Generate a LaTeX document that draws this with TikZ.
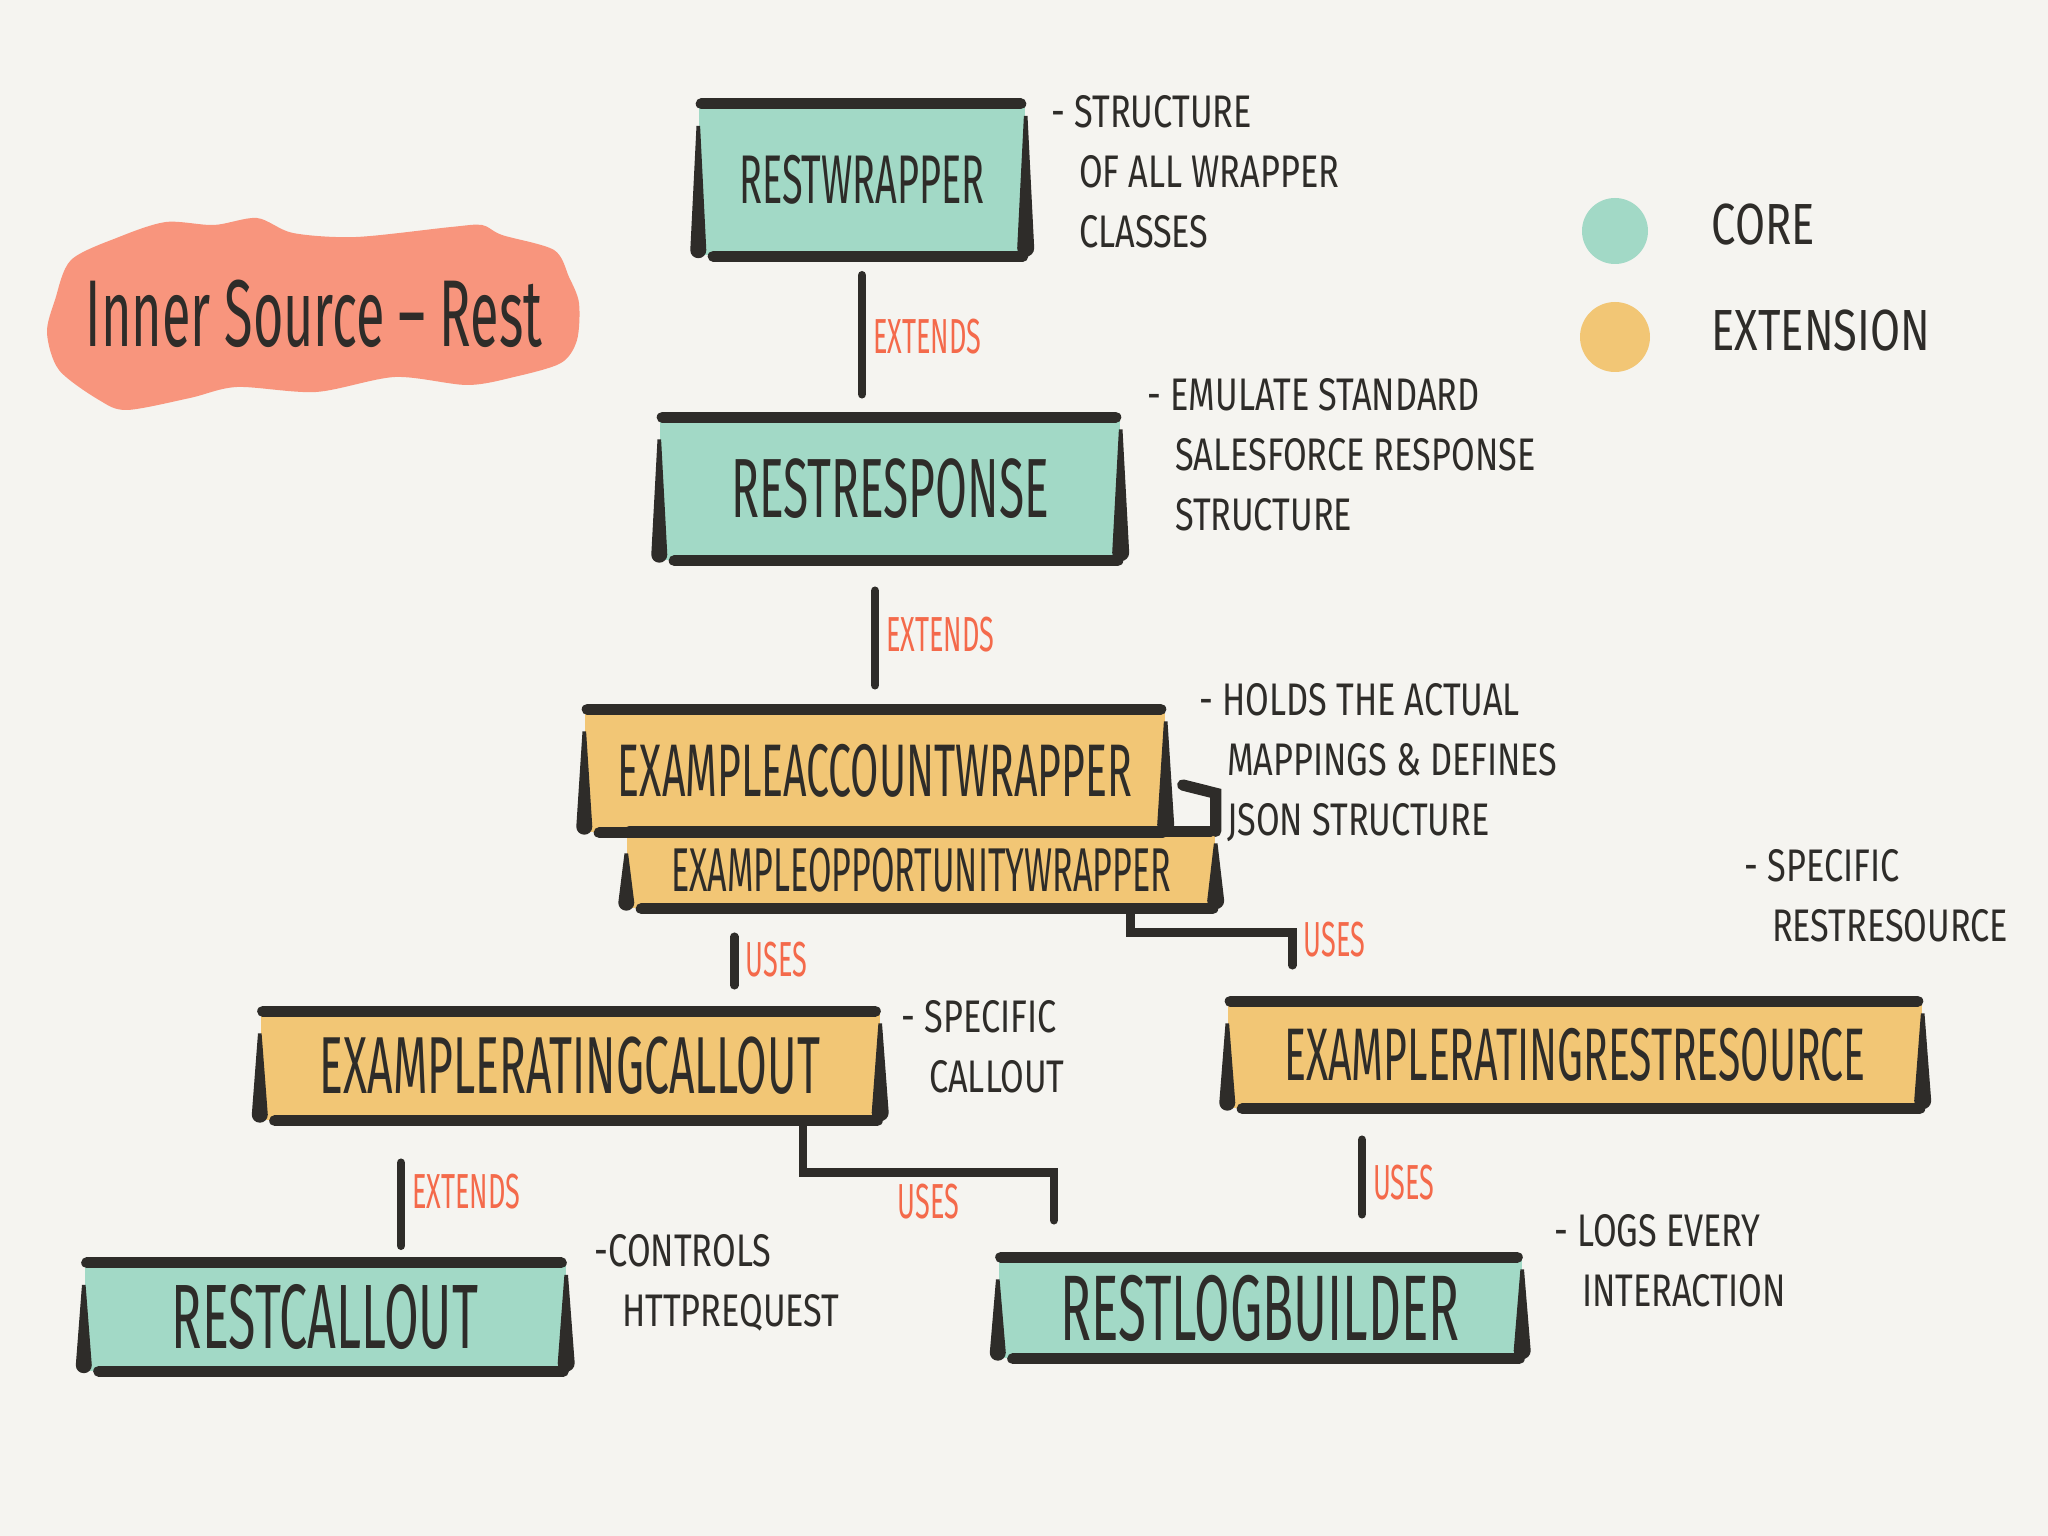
\documentclass[tikz,border=0pt]{standalone}
\usepackage{fontspec}
\setmainfont{Fira Sans}
\newfontfamily\handfont{Fira Sans}[FakeStretch=0.55]
\newfontfamily\notefont{Fira Sans}[FakeStretch=0.75]
\usetikzlibrary{calc,arrows.meta,positioning}
\definecolor{paper}{HTML}{F5F4F0}
\definecolor{ink}{HTML}{2E2C29}
\definecolor{coreteal}{HTML}{A2D9C6}
\definecolor{extyellow}{HTML}{F2C675}
\definecolor{titlered}{HTML}{F8957D}
\definecolor{tagred}{HTML}{F46A4B}
\newcommand\ind{\hspace*{0.6em}}
\tikzset{
    core/.style={fill=coreteal, inner sep=0pt, text=ink},
    ext/.style={fill=extyellow, inner sep=0pt, text=ink},
    rim/.style={draw=ink, line width=3.2pt, line cap=round},
    link/.style={draw=ink, line width=2.4pt, line cap=round},
    tag/.style={text=tagred, font=\handfont\fontsize{14}{14}\selectfont, inner sep=2pt},
    note/.style={text=ink, font=\notefont\fontsize{13}{17}\selectfont, align=left, anchor=north west, inner sep=0pt},
  }

\begin{document}
\begin{tikzpicture}
  \useasboundingbox (0,0) rectangle (20.48,-15.36);
  \fill[paper] (0,0) rectangle (20.48,-15.36);

  %TITLE
  \fill[titlered] plot[smooth cycle] coordinates {(0.71,-2.60) (1.19,-2.37) (1.66,-2.22) (2.14,-2.25) (2.57,-2.18) (2.93,-2.33) (3.56,-2.37) (4.51,-2.27) (4.82,-2.25) (5.02,-2.35) (5.54,-2.50) (5.69,-2.77) (5.79,-3.03) (5.77,-3.40) (5.61,-3.63) (5.14,-3.77) (4.67,-3.85) (3.95,-3.77) (3.16,-3.92) (2.37,-3.87) (1.90,-3.98) (1.27,-4.10) (0.99,-4.00) (0.59,-3.70) (0.47,-3.33) (0.55,-3.00)};
  \node[anchor=base, font=\handfont\fontsize{27}{27}\selectfont, text=ink] (title) at (3.14,-3.47) {Inner Source \textendash{} Rest};

  %LEGEND
  \node[circle, fill=coreteal, minimum size=0.66cm, inner sep=0pt] (corekey) at (16.15,-2.31) {};
  \node[anchor=west, font=\notefont\fontsize{16.5}{17}\selectfont, text=ink, inner sep=0pt] (corelbl) at (17.11,-2.25) {CORE};
  \node[circle, fill=extyellow, minimum size=0.70cm, inner sep=0pt] (extkey) at (16.15,-3.37) {};
  \node[anchor=west, font=\notefont\fontsize{16.5}{17}\selectfont, text=ink, inner sep=0pt] (extlbl) at (17.11,-3.31) {EXTENSION};

  %CLASSES
  \node[core, minimum width=3.26cm, minimum height=1.51cm, font=\handfont\fontsize{19.6}{20}\selectfont] (wrap) at (8.62,-1.80) {RESTWRAPPER};
  \node[core, minimum width=4.60cm, minimum height=1.42cm, font=\handfont\fontsize{23.9}{24}\selectfont] (resp) at (8.90,-4.89) {RESTRESPONSE};
  \node[ext, minimum width=5.80cm, minimum height=1.22cm, font=\handfont\fontsize{21.2}{22}\selectfont] (acc) at (8.75,-7.71) {EXAMPLEACCOUNTWRAPPER};
  \node[ext, minimum width=5.88cm, minimum height=0.76cm, font=\handfont\fontsize{17.6}{18}\selectfont] (opp) at (9.21,-8.70) {EXAMPLEOPPORTUNITYWRAPPER};
  \node[ext, minimum width=6.19cm, minimum height=1.08cm, font=\handfont\fontsize{23}{24}\selectfont] (callout) at (5.70,-10.66) {EXAMPLERATINGCALLOUT};
  \node[ext, minimum width=6.94cm, minimum height=1.06cm, font=\handfont\fontsize{21.2}{22}\selectfont] (resource) at (15.75,-10.55) {EXAMPLERATINGRESTRESOURCE};
  \node[core, minimum width=4.81cm, minimum height=1.07cm, font=\handfont\fontsize{26}{26}\selectfont] (restcallout) at (3.25,-13.17) {RESTCALLOUT};
  \node[core, minimum width=5.23cm, minimum height=1.00cm, font=\handfont\fontsize{26.5}{27}\selectfont] (logbuilder) at (12.60,-13.08) {RESTLOGBUILDER};

  %sketchy frames
  \foreach \n in {wrap,resp,acc,opp,callout,resource,restcallout,logbuilder}{
    \draw[rim] ([xshift=0.03cm]\n.north west) -- ([xshift=-0.05cm]\n.north east);
    \draw[rim] ([xshift=0.15cm]\n.south west) -- ([xshift=-0.03cm]\n.south east);
    \fill[ink] ([shift={(-0.018,-0.22)}]\n.north west) -- ([shift={(-0.08,0.06)}]\n.south west) arc[start angle=180, end angle=360, radius=0.08] -- ([shift={(0.018,-0.22)}]\n.north west) -- cycle;
    \fill[ink] ([shift={(-0.018,-0.12)}]\n.north east) -- ([shift={(-0.085,0.08)}]\n.south east) arc[start angle=180, end angle=360, radius=0.085] -- ([shift={(0.018,-0.12)}]\n.north east) -- cycle;
  }
  \draw[rim] ([shift={(0.17,-0.14)}]acc.east) -- ([yshift=0.38cm]opp.north east) -- (opp.north east);

  %CONNECTORS
  \draw[link, shorten <=0.19cm, shorten >=0.23cm] (wrap.south) -- (wrap.south |- resp.north) node[tag, right, pos=0.5] (t1) {EXTENDS};
  \draw[link, shorten <=0.30cm, shorten >=0.24cm] (acc.north |- resp.south) -- (acc.north) node[tag, right, pos=0.5] (t2) {EXTENDS};

  \coordinate (u1top) at ([xshift=1.08cm]opp.south west);
  \draw[link, shorten <=0.28cm, shorten >=0.26cm] (u1top) -- (u1top |- callout.north) node[tag, right, pos=0.5] (t3) {USES};

  \coordinate (u2top) at ([xshift=-0.85cm]opp.south east);
  \coordinate (u2end) at ([xshift=0.65cm]resource.north west);
  \draw[link, shorten >=0.36cm] (u2top) -- ++(0,-0.24) -| (u2end) node[tag, right, pos=0.55] (t4) {USES};

  \coordinate (e3end) at ([xshift=0.76cm]restcallout.north);
  \draw[link, shorten <=0.42cm, shorten >=0.17cm] (e3end |- callout.south) -- (e3end) node[tag, right, pos=0.5] (t5) {EXTENDS};

  \coordinate (u3top) at ([xshift=-0.77cm]callout.south east);
  \coordinate (u3end) at ([xshift=0.56cm]logbuilder.north west);
  \draw[link, shorten >=0.37cm] (u3top) -- ++(0,-0.52) -| (u3end) node[tag, below, pos=0.25] (t6) {USES};

  \coordinate (u4end) at ([xshift=1.02cm]logbuilder.north);
  \draw[link, shorten <=0.31cm, shorten >=0.43cm] (u4end |- resource.south) -- (u4end) node[tag, right, pos=0.5] (t7) {USES};

  %NOTES
  \node[note] (n1) at (10.51,-0.95) {- STRUCTURE\\\ind OF ALL WRAPPER\\\ind CLASSES};
  \node[note] (n2) at (11.47,-3.78) {- EMULATE STANDARD\\\ind SALESFORCE RESPONSE\\\ind STRUCTURE};
  \node[note] (n3) at (11.99,-6.83) {- HOLDS THE ACTUAL\\\ind MAPPINGS \& DEFINES\\\ind JSON STRUCTURE};
  \node[note] (n4) at (17.44,-8.49) {- SPECIFIC\\\ind RESTRESOURCE};
  \node[note] (n5) at (9.01,-10.00) {- SPECIFIC\\\ind CALLOUT};
  \node[note] (n6) at (5.94,-12.34) {-CONTROLS\\\ind HTTPREQUEST};
  \node[note] (n7) at (15.54,-12.14) {- LOGS EVERY\\\ind INTERACTION};
\end{tikzpicture}
\end{document}
